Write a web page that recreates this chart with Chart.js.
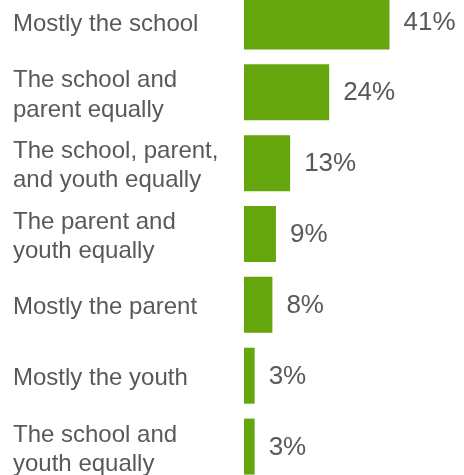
<!DOCTYPE html>
<html>
<head>
<meta charset="utf-8">
<script src="https://cdn.jsdelivr.net/npm/chart.js@4/dist/chart.umd.min.js"></script>
<style>
  html, body { margin: 0; padding: 0; background: #ffffff; overflow: hidden; }
  #wrap { position: relative; width: 464px; height: 475px; overflow: hidden; }
  #c { position: absolute; left: 0; top: -14px; }
</style>
</head>
<body>
<div id="wrap"><canvas id="c" width="464" height="496"></canvas></div>
<script>
const categories = [
  ["Mostly the school"],
  ["The school and", "parent equally"],
  ["The school, parent,", "and youth equally"],
  ["The parent and", "youth equally"],
  ["Mostly the parent"],
  ["Mostly the youth"],
  ["The school and", "youth equally"]
];
const values = [41, 24, 13, 9, 8, 3, 3];
const valueLabels = ["41%", "24%", "13%", "9%", "8%", "3%", "3%"];

const FONT = "'Liberation Sans', Arial, Helvetica, sans-serif";
const TEXT = '#595959';
const BAR = '#64a60c';

const valueLabelPlugin = {
  id: 'valueLabels',
  afterDatasetsDraw(chart) {
    const ctx = chart.ctx;
    const meta = chart.getDatasetMeta(0);
    ctx.save();
    ctx.font = '26px ' + FONT;
    ctx.fillStyle = TEXT;
    ctx.textAlign = 'left';
    ctx.textBaseline = 'middle';
    meta.data.forEach((bar, i) => {
      ctx.fillText(valueLabels[i], bar.x + 14, bar.y + 1);
    });
    ctx.restore();
  }
};

new Chart(document.getElementById('c'), {
  type: 'bar',
  data: {
    labels: categories,
    datasets: [{
      data: values,
      backgroundColor: BAR,
      borderWidth: 0,
      categoryPercentage: 1,
      barPercentage: 0.79
    }]
  },
  options: {
    indexAxis: 'y',
    responsive: false,
    animation: false,
    devicePixelRatio: 1,
    layout: { padding: { left: 13, right: 0, top: 0, bottom: 0 } },
    plugins: { legend: { display: false }, tooltip: { enabled: false } },
    scales: {
      x: { display: false, min: 0, max: 62 },
      y: {
        grid: { display: false },
        border: { display: false },
        ticks: {
          crossAlign: 'far',
          color: TEXT,
          labelOffset: 3,
          font: { family: FONT, size: 24, lineHeight: 1.22 },
          padding: 0
        },
        afterFit(scale) {
          scale.width = 231;
          scale.paddingTop = 0;
          scale.paddingBottom = 0;
        }
      }
    }
  },
  plugins: [valueLabelPlugin]
});
</script>
</body>
</html>
